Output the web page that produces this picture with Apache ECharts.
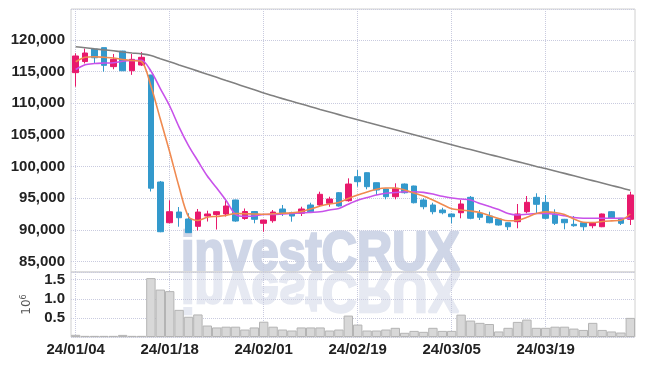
<!DOCTYPE html>
<html>
<head>
<meta charset="utf-8">
<script src="https://cdn.jsdelivr.net/npm/echarts@6/dist/echarts.min.js"></script>
<style>html,body{margin:0;padding:0;background:#fff}#c{width:645px;height:366px}</style>
</head>
<body>
<div id="c"></div>
<script>
const dates = ['24/01/04','24/01/05','24/01/08','24/01/09','24/01/10','24/01/11','24/01/12','24/01/15','24/01/16','24/01/17','24/01/18','24/01/19','24/01/22','24/01/23','24/01/24','24/01/25','24/01/26','24/01/29','24/01/30','24/01/31','24/02/01','24/02/02','24/02/05','24/02/06','24/02/07','24/02/08','24/02/13','24/02/14','24/02/15','24/02/16','24/02/19','24/02/20','24/02/21','24/02/22','24/02/23','24/02/26','24/02/27','24/02/28','24/02/29','24/03/04','24/03/05','24/03/06','24/03/07','24/03/08','24/03/11','24/03/12','24/03/13','24/03/14','24/03/15','24/03/18','24/03/19','24/03/20','24/03/21','24/03/22','24/03/25','24/03/26','24/03/27','24/03/28','24/03/29','24/04/01'];
const opens = [114850,116600,118580,118800,115800,118260,115150,116050,114475,97580,91150,92840,91740,90580,92210,92450,92530,94740,91820,92920,91060,91470,93320,92730,92640,93950,93950,94220,95890,94630,98420,99050,97470,96470,95260,97260,96950,94740,93950,93160,92530,92730,95160,92640,92210,91740,91150,91310,92890,95160,94370,92530,91690,90900,91150,90680,90520,92890,91850,91690];
const closes = [117480,117950,117200,116000,116950,115150,116950,117270,96600,89730,92890,91940,89580,92840,92530,92890,93790,91420,92920,91690,91580,92840,92640,92210,93320,92890,95640,94890,93790,97260,97630,96840,96320,95260,96580,95890,94310,93680,92890,92730,92100,94110,91850,92010,91150,90790,90520,92530,94370,94060,91850,91060,91150,90680,90520,91150,92530,91850,91060,95530];
const lows = [112630,116300,116320,115000,115380,115100,114500,115900,96080,89650,91050,90520,89550,89920,91340,90080,92130,91300,91610,91060,89730,91150,92210,91310,92210,92800,93680,93680,93700,94470,96840,96430,95530,94850,94850,95750,94200,93270,92480,92480,91060,91850,91700,91580,91050,90700,90000,90270,92640,92640,91700,90790,90110,90520,89890,90270,90450,91800,90790,90790];
const highs = [117900,118650,118600,118800,117800,118300,117800,118100,114500,97740,94700,93630,92640,93320,93050,92950,94660,94800,93400,93000,91600,93160,93950,92890,93680,94310,96050,95260,96000,98160,99470,99100,97500,96500,97370,97350,97000,95000,94310,93520,92600,94740,95370,93160,92890,91800,91200,94110,95370,95800,95530,93270,91750,92210,91200,91200,92600,93000,91900,96050];
const volumes = [57000,30000,30000,30000,30000,55000,30000,30000,1540000,1240000,1200000,710000,530000,590000,300000,250000,270000,270000,195000,250000,400000,270000,195000,170000,250000,250000,250000,170000,195000,560000,325000,170000,170000,195000,240000,110000,160000,135000,240000,160000,160000,585000,430000,370000,340000,145000,240000,395000,455000,240000,240000,270000,270000,220000,185000,370000,185000,145000,117000,500000];
const maShort = [116570,117270,117360,117270,117160,116920,116760,116610,112740,107530,102320,96790,92130,91500,92010,92160,92290,92610,92560,92530,92480,92560,92650,92720,92920,93320,93790,94110,94340,94970,95530,96000,96430,96630,96630,96320,95840,95370,94740,94030,93360,93160,93000,92760,92290,91820,91470,91500,92010,92610,92870,92760,92450,91740,91220,91180,91340,91450,91550,92530];
const maMid = [115340,116100,116290,116370,116420,116640,116760,116800,115110,112340,109580,106260,103340,100900,98530,96630,94660,92480,92160,92210,92450,92450,92530,92620,92680,92780,92890,93160,93400,94070,94690,95130,95530,95800,95920,96050,96050,95950,95680,95320,95050,94900,94740,94180,93710,93240,92610,92370,92480,92610,92610,92500,92260,91970,91850,91850,91850,91850,91850,91850];
const maLong = [118940,118790,118610,118450,118300,118120,117960,117810,117550,117060,116570,116070,115580,115090,114600,114110,113610,113120,112630,112140,111630,111190,110750,110320,109900,109470,109040,108630,108220,107810,107420,107020,106630,106230,105840,105440,105050,104650,104260,103860,103470,103070,102700,102320,101940,101560,101180,100800,100420,100040,99700,99320,98940,98560,98180,97800,97420,97040,96660,96270];

const UP = '#e8196c', DOWN = '#3399cc';
const labelFont = {fontFamily: '"Liberation Sans Narrow","Liberation Sans",sans-serif', fontWeight: 'bold', fontSize: 15, color: '#222'};
const gridLine = {lineStyle: {color: '#c9cbdf', type: 'dotted', width: 1}};
const candleData = opens.map((o, i) => [o, closes[i], lows[i], highs[i]]);

const chart = echarts.init(document.getElementById('c'));
chart.setOption({
  animation: false,
  backgroundColor: '#fff',
  graphic: [
    {type: 'text', x: 181, y: 272, scaleX: 0.87, scaleY: 1, z: -1, silent: true,
     style: {text: 'investCRUX', x: 0, y: -17, font: 'bold 56px "Liberation Sans", sans-serif', fill: '#cfd6e7', stroke: '#cfd6e7', lineWidth: 2.5, textAlign: 'left', verticalAlign: 'middle'}},
    {type: 'text', x: 181, y: 272, scaleX: 0.87, scaleY: -1, z: -1, silent: true,
     style: {text: 'investCRUX', x: 0, y: -17, font: 'bold 56px "Liberation Sans", sans-serif', fill: '#e6e9f2', stroke: '#e6e9f2', lineWidth: 2.5, textAlign: 'left', verticalAlign: 'middle'}}
  ],
  grid: [
    {left: 71, right: 10, top: 9, height: 263, show: true, borderColor: '#d0d0d0', borderWidth: 1, backgroundColor: 'transparent'},
    {left: 71, right: 10, top: 272, height: 65, show: true, borderColor: '#d0d0d0', borderWidth: 1, backgroundColor: 'transparent'}
  ],
  xAxis: [
    {type: 'category', gridIndex: 0, data: dates, boundaryGap: true,
     axisLine: {show: false}, axisTick: {show: false}, axisLabel: {show: false},
     splitLine: Object.assign({show: true, interval: 9, alignWithLabel: true}, gridLine)},
    {type: 'category', gridIndex: 1, data: dates, boundaryGap: true,
     axisLine: {show: false}, axisTick: {show: false, interval: 9, alignWithLabel: true},
     axisLabel: Object.assign({interval: 9, margin: 5}, labelFont),
     splitLine: Object.assign({show: true, interval: 9, alignWithLabel: true}, gridLine)}
  ],
  yAxis: [
    {type: 'value', gridIndex: 0, min: 83370, max: 124900, splitNumber: 8, scale: true,
     axisLine: {show: false}, axisTick: {show: false},
     axisLabel: Object.assign({margin: 6, showMinLabel: false, showMaxLabel: false,
       formatter: v => String(v).replace(/\B(?=(\d{3})+(?!\d))/g, ',')}, labelFont),
     splitLine: Object.assign({show: true}, gridLine)},
    {type: 'value', gridIndex: 1, min: 0, max: 1700000, splitNumber: 3,
     axisLine: {show: false}, axisTick: {show: false},
     name: '10{s|6}', nameLocation: 'middle', nameGap: 33, nameRotate: 90,
     nameTextStyle: {fontFamily: '"DejaVu Sans", sans-serif', fontSize: 12, color: '#555', rich: {s: {fontSize: 8, color: '#555', verticalAlign: 'top', padding: [0, 0, 6, 0]}}},
     axisLabel: Object.assign({margin: 6, showMinLabel: false, showMaxLabel: false,
       formatter: v => (v / 1e6).toFixed(1)}, labelFont),
     splitLine: Object.assign({show: true}, gridLine)}
  ],
  series: [
    {type: 'candlestick', xAxisIndex: 0, yAxisIndex: 0, data: candleData, barWidth: 6,
     itemStyle: {color: UP, color0: DOWN, borderColor: UP, borderColor0: DOWN, borderWidth: 1}},
    {type: 'line', xAxisIndex: 0, yAxisIndex: 0, data: maLong, showSymbol: false, smooth: 0.3,
     lineStyle: {color: '#808080', width: 1.6}},
    {type: 'line', xAxisIndex: 0, yAxisIndex: 0, data: maMid, showSymbol: false, smooth: 0.3,
     lineStyle: {color: '#c852ea', width: 1.6}},
    {type: 'line', xAxisIndex: 0, yAxisIndex: 0, data: maShort, showSymbol: false, smooth: 0.3,
     lineStyle: {color: '#f08a50', width: 1.6}},
    {type: 'bar', xAxisIndex: 1, yAxisIndex: 1, data: volumes, barWidth: '100%',
     itemStyle: {color: '#d8d8d8', borderColor: '#b4b4b4', borderWidth: 1}}
  ]
});
</script>
</body>
</html>
